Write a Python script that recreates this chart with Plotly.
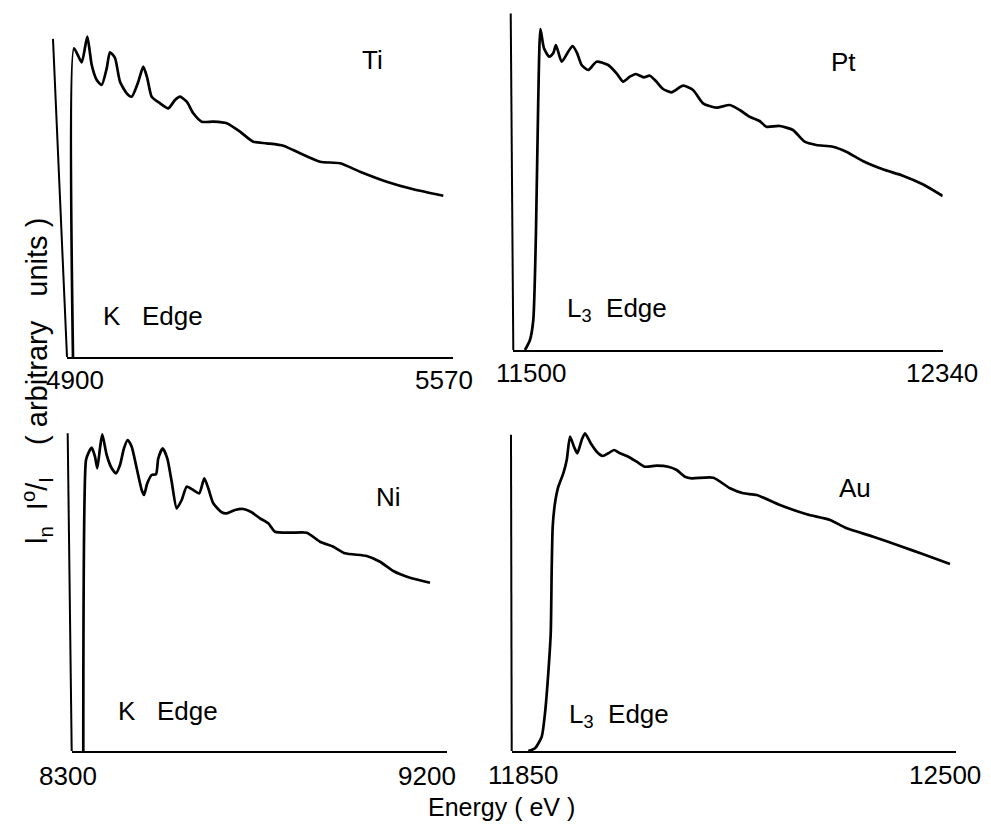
import plotly.graph_objects as go

# ---------------- data (energies in eV, intensity in arbitrary units) ----------------
ti_energy = [4910.4, 4912.2, 4925.5, 4935.2, 4942.9, 4951.6, 4960.2, 4968.9, 4974.6, 4983.3,
             4992.0, 5003.6, 5012.3, 5023.8, 5032.4, 5039.4, 5047.0, 5061.4, 5075.8, 5087.5,
             5096.1, 5107.8, 5119.2, 5133.8, 5153.9, 5177.2, 5200.3, 5223.4, 5246.6, 5275.5,
             5304.4, 5339.2, 5373.9, 5408.6, 5454.9, 5501.1, 5553.2]
ti_signal = [0.0, 308.7, 294.7, 320.3, 292.0, 277.0, 272.0, 288.7, 304.7, 299.0,
             275.3, 263.7, 260.3, 275.3, 290.3, 278.7, 260.3, 253.7, 248.7, 257.0,
             260.3, 255.3, 243.7, 235.3, 235.3, 233.7, 225.3, 215.3, 213.7, 211.3,
             203.7, 195.3, 193.7, 185.3, 175.3, 167.7, 161.3]

pt_energy = [11522.9, 11532.6, 11539.1, 11544.3, 11548.8, 11553.1, 11560.0, 11570.3, 11578.1, 11583.4,
             11594.6, 11607.4, 11616.0, 11625.0, 11633.6, 11646.5, 11662.9, 11685.6, 11702.0, 11714.9,
             11728.0, 11739.7, 11755.3, 11767.0, 11780.1, 11793.0, 11809.4, 11832.1, 11851.6, 11871.2,
             11897.3, 11923.3, 11942.9, 11962.4, 11981.9, 11995.0, 12021.0, 12047.0, 12069.8, 12092.7,
             12125.1, 12151.3, 12183.7, 12222.8, 12261.9, 12300.9, 12340.0]
pt_signal = [0.0, 10.0, 30.0, 117.0, 250.0, 321.0, 301.7, 293.3, 296.7, 305.0,
             288.3, 298.3, 304.0, 296.7, 285.0, 280.0, 288.3, 285.0, 276.7, 268.3,
             273.3, 276.0, 272.7, 274.3, 268.3, 261.0, 257.7, 264.3, 260.0, 246.7,
             242.3, 245.0, 240.0, 233.3, 229.0, 223.3, 224.0, 220.0, 208.3, 205.0,
             203.3, 198.3, 189.0, 180.7, 174.3, 165.7, 154.0]

ni_energy = [8327.8, 8334.3, 8339.8, 8348.0, 8355.9, 8361.4, 8367.9, 8373.4, 8384.0, 8396.0,
             8406.3, 8415.9, 8425.5, 8434.4, 8444.0, 8456.0, 8468.0, 8473.5, 8481.4, 8492.0,
             8502.3, 8507.8, 8518.4, 8529.4, 8540.0, 8552.0, 8564.0, 8576.0, 8591.8, 8606.2,
             8618.2, 8627.8, 8639.8, 8660.0, 8672.0, 8691.9, 8711.8, 8732.0, 8751.9, 8771.8,
             8787.9, 8823.9, 8864.0, 8895.9, 8927.8, 8955.9, 9008.0, 9039.9, 9071.8, 9111.9,
             9159.9]
ni_signal = [0.0, 291.0, 297.7, 303.3, 294.3, 282.7, 302.7, 316.7, 296.0, 282.7,
             277.7, 286.0, 302.7, 311.0, 304.3, 282.7, 261.0, 256.0, 267.7, 276.0,
             276.7, 292.7, 302.7, 292.7, 269.3, 242.7, 251.0, 264.3, 261.0, 257.7,
             272.7, 262.7, 247.7, 238.7, 237.7, 241.0, 242.0, 238.7, 232.7, 227.7,
             219.3, 218.3, 218.3, 209.3, 204.3, 197.7, 195.0, 189.3, 180.0, 173.3,
             168.3]

au_energy = [11874.3, 11884.1, 11893.9, 11898.7, 11903.5, 11907.1, 11908.5, 11910.0, 11913.3, 11918.2,
             11925.5, 11930.5, 11935.3, 11941.1, 11946.0, 11952.4, 11957.2, 11965.6, 11974.4, 11983.1,
             11991.3, 11999.7, 12008.4, 12020.6, 12032.9, 12045.0, 12062.1, 12079.1, 12091.4, 12103.5,
             12113.3, 12144.9, 12169.4, 12188.8, 12208.4, 12242.5, 12281.6, 12315.7, 12340.1, 12379.0,
             12418.1, 12452.2, 12491.2]
au_signal = [0.0, 2.7, 14.3, 37.7, 77.7, 117.7, 181.0, 224.3, 247.7, 264.3,
             277.7, 291.0, 314.3, 304.3, 297.7, 311.0, 317.7, 307.7, 299.3, 295.0,
             297.7, 301.0, 297.7, 294.3, 289.3, 284.3, 285.3, 284.3, 281.0, 274.3,
             272.7, 273.3, 262.7, 257.7, 256.0, 246.0, 236.7, 231.0, 222.7, 214.3,
             205.0, 196.7, 187.0]

ti_ticks = [4900, 5570]
pt_ticks = [11500, 12340]
ni_ticks = [8300, 9200]
au_ticks = [11850, 12500]

elements = ["Ti", "Pt", "Ni", "Au"]
edges = ["K\u00a0\u00a0\u00a0Edge", "L<sub>3</sub>\u00a0\u00a0Edge",
         "K\u00a0\u00a0\u00a0Edge", "L<sub>3</sub>\u00a0\u00a0Edge"]

# ---------------- figure geometry ----------------
# The page body has an 8 px margin, so the figure is sized to fill the window after it.
OFF = 8
W, H = 991 - OFF, 824 - OFF
FONT = "Liberation Sans, Arial, sans-serif"


def fx(px):
    return (px - OFF) / W


def fy(py):
    return 1 - (py - OFF) / H


panels = [
    # (energy, signal, ticks, x px span, y px (top, baseline), yrange,
    #  left-line top (xdom, ydom), tick-label x shifts, tick-label y shift)
    (ti_energy, ti_signal, ti_ticks, (67, 453), (27, 357), [0, 330], (-0.0363, 0.964), (8, -9), -23),
    (pt_energy, pt_signal, pt_ticks, (513.3, 942.7), (10, 350), [0, 340], (-0.006, 0.990), (18, -1), -23),
    (ni_energy, ni_signal, ni_ticks, (71.7, 446.7), (421, 751), [0, 330], (-0.0107, 0.963), (-4, -20), -25),
    (au_energy, au_signal, au_ticks, (511.7, 956), (421, 751), [0, 330], (-0.0016, 0.958), (11, -11), -24),
]

fig = go.Figure()
layout = {}
shapes = []
annotations = []
for i, (xs, ys, ticks, xpx, ypx, yr, top, tshift, tys) in enumerate(panels, start=1):
    sfx = "" if i == 1 else str(i)
    fig.add_trace(go.Scatter(
        x=xs, y=ys, mode="lines",
        line=dict(color="black", width=2.7, shape="spline", smoothing=0.6),
        xaxis="x" + sfx, yaxis="y" + sfx, showlegend=False, hoverinfo="skip",
    ))
    layout["xaxis" + sfx] = dict(
        domain=[fx(xpx[0]), fx(xpx[1])], range=ticks, anchor="y" + sfx,
        showline=True, linecolor="black", linewidth=2,
        showgrid=False, zeroline=False, automargin=False,
        ticks="inside", ticklen=9, tickwidth=2, tickcolor="black",
        tickvals=ticks, showticklabels=False,
    )
    layout["yaxis" + sfx] = dict(
        domain=[fy(ypx[1]), fy(ypx[0])], range=yr, anchor="x" + sfx,
        showline=False, showgrid=False, zeroline=False, automargin=False,
        showticklabels=False, ticks="",
    )
    shapes.append(dict(
        type="line", xref="x%s domain" % sfx, yref="y%s domain" % sfx,
        x0=0, y0=0, x1=top[0], y1=top[1],
        line=dict(color="black", width=2),
    ))
    # end-of-axis value labels, placed at their tick values
    for t, sh in zip(ticks, tshift):
        annotations.append(dict(
            text=str(t), x=t, y=0, xref="x" + sfx, yref="y%s domain" % sfx,
            xshift=sh, yshift=tys, showarrow=False, xanchor="center", yanchor="middle",
            font=dict(family=FONT, size=26, color="black")))

# element and edge labels (reference pixel positions)
label_pos = [(372, 60), (843, 62), (388, 497), (855, 488)]
edge_pos = [(153, 316), (617, 309), (168, 711), (619, 715)]
for name, (px, py) in zip(elements, label_pos):
    annotations.append(dict(text=name, x=fx(px), y=fy(py), xref="paper", yref="paper",
                            showarrow=False, xanchor="center", yanchor="middle",
                            font=dict(family=FONT, size=26, color="black")))
for name, (px, py) in zip(edges, edge_pos):
    annotations.append(dict(text=name, x=fx(px), y=fy(py), xref="paper", yref="paper",
                            showarrow=False, xanchor="center", yanchor="middle",
                            font=dict(family=FONT, size=26, color="black")))

annotations.append(dict(
    text=("l<sub>n</sub>\u00a0\u00a0I<sup>o</sup>/<sub>I</sub>\u00a0\u00a0\u00a0\u00a0"
          "(\u00a0arbitrary\u00a0\u00a0\u00a0units\u00a0)"),
    x=fx(37), y=fy(381), xref="paper", yref="paper", textangle=-90,
    showarrow=False, xanchor="center", yanchor="middle",
    font=dict(family=FONT, size=29, color="black")))
annotations.append(dict(
    text="Energy\u00a0(\u00a0eV\u00a0)", x=fx(502), y=fy(807), xref="paper", yref="paper",
    showarrow=False, xanchor="center", yanchor="middle",
    font=dict(family=FONT, size=25, color="black")))

fig.update_layout(
    width=W, height=H,
    margin=dict(l=0, r=0, t=0, b=0, pad=0, autoexpand=False),
    paper_bgcolor="white", plot_bgcolor="white",
    shapes=shapes, annotations=annotations,
    showlegend=False,
    **layout,
)

fig.write_html("out.html")
